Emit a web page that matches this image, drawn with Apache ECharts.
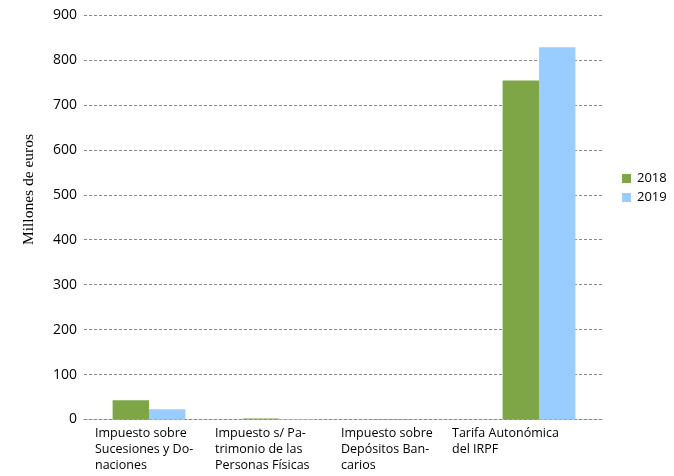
<!DOCTYPE html>
<html><head><meta charset="utf-8">
<script src="https://cdn.jsdelivr.net/npm/echarts@6/dist/echarts.min.js"></script>
<style>html,body{margin:0;padding:0;background:#fff}#c{width:674px;height:476px}</style>
</head><body><div id="c"></div>
<script>
const categories = [
  "Impuesto sobre\nSucesiones y Do-\nnaciones",
  "Impuesto s/ Pa-\ntrimonio de las\nPersonas Físicas",
  "Impuesto sobre\nDepósitos Ban-\ncarios",
  "Tarifa Autonómica\ndel IRPF"
];
const seriesNames = ["2018", "2019"];
const values2018 = [43, 2, 1, 754];
const values2019 = [23, 1, 0, 828];
const yTicks = [0, 100, 200, 300, 400, 500, 600, 700, 800, 900];

const chart = echarts.init(document.getElementById('c'), null, {renderer: 'canvas'});
const labelWidths = [108, 128, 136, 174];
const rich = {};
labelWidths.forEach((w, i) => { rich['c' + i] = {width: w, align: 'left', fontFamily: 'Open Sans', fontSize: 12.5, color: '#000', lineHeight: 16}; });

chart.setOption({
  animation: false,
  grid: {left: 84, right: 70, top: 15, bottom: 56.5, containLabel: false},
  legend: {
    orient: 'vertical', left: 617, top: 167,
    itemWidth: 9, itemHeight: 9, itemGap: 6,
    icon: 'rect',
    textStyle: {fontFamily: 'Open Sans', fontSize: 13, color: '#000', padding: [0,0,0,1]},
    data: seriesNames
  },
  graphic: [{
    type: 'text', left: 21, top: 134, rotation: Math.PI / 2,
    style: {text: 'Millones de euros', font: '15.5px "Liberation Serif"', fill: '#000'}
  }],
  xAxis: {
    type: 'category', data: categories,
    axisLine: {show: true, lineStyle: {color: '#888', type: [3, 2], width: 1}},
    axisTick: {show: false},
    axisLabel: {
      interval: 0, margin: 6, align: 'center', verticalAlign: 'top',
      formatter: (v, i) => v.split('\n').map(l => '{c' + i + '|' + l + '}').join('\n'),
      rich: rich
    }
  },
  yAxis: {
    type: 'value', min: yTicks[0], max: yTicks[yTicks.length - 1], interval: 100,
    axisLine: {show: false}, axisTick: {show: false},
    splitLine: {lineStyle: {color: '#888', type: [3, 2], width: 1}},
    axisLabel: {margin: 7, fontFamily: 'Open Sans', fontSize: 14, color: '#000'}
  },
  series: [
    {name: seriesNames[0], type: 'bar', data: values2018, barGap: '0%', barCategoryGap: '44%', itemStyle: {color: '#7ea646'}},
    {name: seriesNames[1], type: 'bar', data: values2019, barGap: '0%', barCategoryGap: '44%', itemStyle: {color: '#99ccff'}}
  ]
});
</script></body></html>
